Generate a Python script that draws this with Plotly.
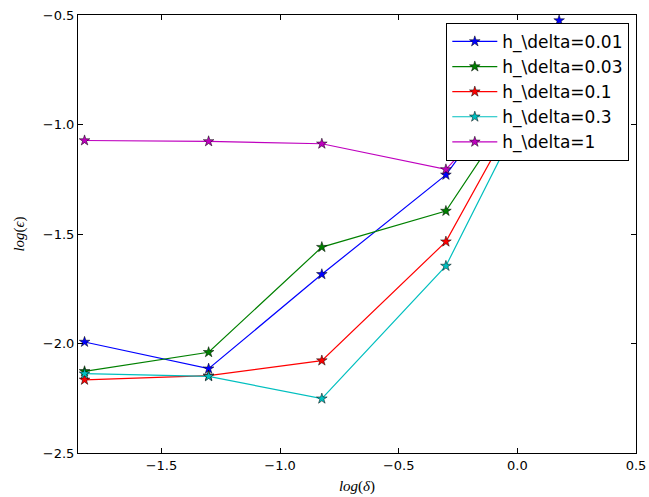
import numpy as np
import plotly.graph_objects as go

# data
delta = [0.015, 0.05, 0.15, 0.5, 1.5]
log_delta = list(np.log10(delta))
series_names = ["h_\\delta=0.01", "h_\\delta=0.03", "h_\\delta=0.1", "h_\\delta=0.3", "h_\\delta=1"]
eps_001 = [-1.993, -2.115, -1.684, -1.230, -0.525]
eps_003 = [-2.127, -2.040, -1.560, -1.395, -0.62]
eps_01 = [-2.166, -2.147, -2.078, -1.535, -0.60]
eps_03 = [-2.138, -2.150, -2.252, -1.646, -0.62]
eps_1 = [-1.073, -1.077, -1.088, -1.205, -0.65]
x_ticks = [-1.5, -1.0, -0.5, 0.0, 0.5]
y_ticks = [-2.5, -2.0, -1.5, -1.0, -0.5]

series = [eps_001, eps_003, eps_01, eps_03, eps_1]
colors = ["#0000ff", "#008000", "#ff0000", "#00bfbf", "#bf00bf"]

fig = go.Figure()
for name, ys, col in zip(series_names, series, colors):
    fig.add_trace(go.Scatter(
        x=log_delta, y=ys, name=name, mode="lines+markers",
        line=dict(color=col, width=1.2),
        marker=dict(symbol="star", size=8, color=col, line=dict(color="black", width=0.5)),
    ))

axis_common = dict(
    showline=True, linecolor="black", linewidth=1, mirror="ticks",
    ticks="inside", ticklen=5, tickwidth=1, tickcolor="black",
    showgrid=False, zeroline=False, automargin=False,
    tickfont=dict(family="DejaVu Sans", size=13, color="black"),
    tickformat=".1f",
)

fig.update_layout(
    width=649, height=497,
    margin=dict(l=78, r=13, t=15, b=44, autoexpand=False),
    paper_bgcolor="white", plot_bgcolor="white",
    xaxis=dict(range=[-1.8515, 0.5], tickvals=x_ticks,
               title=dict(text="<i>log</i>(<i>δ</i>)", font=dict(family="Liberation Serif", size=15, color="black"), standoff=8),
               **axis_common),
    yaxis=dict(range=[-2.5, -0.5], tickvals=y_ticks,
               title=dict(text="<i>log</i>(<i>ϵ</i>)", font=dict(family="Liberation Serif", size=15, color="black"), standoff=14),
               **axis_common),
    legend=dict(
        x=0.988, y=0.982, xanchor="right", yanchor="top",
        bgcolor="white", bordercolor="black", borderwidth=1,
        font=dict(family="DejaVu Sans", size=17, color="black"),
        tracegroupgap=0, itemwidth=45,
    ),
    showlegend=True,
)

fig.write_html("out.html", config={"displayModeBar": False},
               post_script="document.body.style.margin='0';document.body.style.overflow='hidden';")
